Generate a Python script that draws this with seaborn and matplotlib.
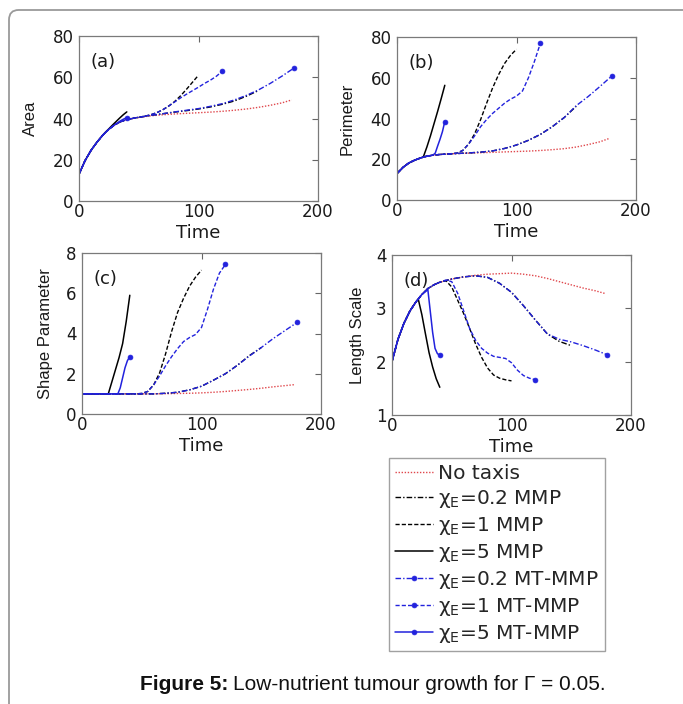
import matplotlib
matplotlib.use("Agg")
import matplotlib.pyplot as plt
from matplotlib.patches import FancyBboxPatch
import seaborn as sns

sns.set_theme(style="white")
plt.rcParams["font.family"] = ["DejaVu Sans"]
plt.rcParams["mathtext.fontset"] = "dejavusans"

# ---------------- data ----------------
labels = ["No taxis",
          "χ$_{\\mathrm{E}}$=0.2 MMP",
          "χ$_{\\mathrm{E}}$=1 MMP",
          "χ$_{\\mathrm{E}}$=5 MMP",
          "χ$_{\\mathrm{E}}$=0.2 MT-MMP",
          "χ$_{\\mathrm{E}}$=1 MT-MMP",
          "χ$_{\\mathrm{E}}$=5 MT-MMP"]

# No taxis
t_nt = [0, 5, 10, 15, 20, 25, 30, 35, 40, 50, 60, 70, 80, 90, 100, 110, 120, 130, 140, 150, 160, 170, 178]
area_nt = [13, 19.5, 24.5, 28.5, 32, 34.8, 37, 38.5, 39.5, 40.5, 41.3, 41.8, 42.2, 42.5, 42.8, 43.1, 43.5, 44, 44.6, 45.4, 46.4, 47.6, 49]
perim_nt = [13, 16, 18.2, 19.6, 20.7, 21.5, 22, 22.3, 22.5, 22.8, 23, 23.2, 23.4, 23.6, 23.8, 24, 24.3, 24.7, 25.2, 26, 27.2, 28.6, 30.3]
shape_nt = [1, 1, 1, 1, 1, 1, 1, 1, 1, 1.0, 1.0, 1.01, 1.02, 1.03, 1.05, 1.08, 1.12, 1.17, 1.22, 1.28, 1.35, 1.41, 1.46]
length_nt = [2.0, 2.42, 2.72, 2.95, 3.12, 3.26, 3.37, 3.44, 3.49, 3.55, 3.59, 3.62, 3.64, 3.65, 3.66, 3.64, 3.61, 3.56, 3.5, 3.44, 3.38, 3.33, 3.28]

# chi_E = 0.2 MMP
t_02 = [0, 5, 10, 15, 20, 25, 30, 35, 40, 50, 60, 70, 80, 90, 100, 110, 120, 130, 140, 150]
area_02 = [13, 19.5, 24.5, 28.5, 32, 34.8, 37, 38.5, 39.5, 40.6, 41.5, 42.3, 43.1, 43.8, 44.6, 45.6, 46.9, 48.5, 50.8, 53.5]
perim_02 = [13, 16, 18.2, 19.6, 20.7, 21.5, 22, 22.3, 22.5, 22.8, 23.1, 23.5, 24.1, 25.3, 27, 29.3, 32.2, 36, 40.5, 46]
shape_02 = [1, 1, 1, 1, 1, 1, 1, 1, 1, 1.0, 1.0, 1.03, 1.08, 1.2, 1.38, 1.68, 2.0, 2.42, 2.9, 3.3]
length_02 = [2.0, 2.42, 2.72, 2.95, 3.12, 3.26, 3.37, 3.44, 3.49, 3.55, 3.59, 3.61, 3.58, 3.47, 3.3, 3.05, 2.78, 2.52, 2.38, 2.3]

# chi_E = 1 MMP
t_1 = [0, 5, 10, 15, 20, 25, 30, 35, 40, 45, 50, 55, 60, 65, 70, 75, 80, 85, 90, 95, 100]
area_1 = [13, 19.5, 24.5, 28.5, 32, 34.8, 37, 38.5, 39.5, 40.1, 40.6, 41.1, 41.8, 42.8, 44.2, 46, 48.2, 51, 54.2, 57.6, 61]
perim_1 = [13, 16, 18.2, 19.6, 20.7, 21.5, 22, 22.3, 22.5, 22.7, 23, 24.3, 27.5, 32.5, 39.5, 47.5, 55, 61.5, 67, 71, 74]
shape_1 = [1, 1, 1, 1, 1, 1, 1, 1, 1, 1, 1.02, 1.12, 1.45, 2.05, 3.0, 4.1, 5.05, 5.75, 6.35, 6.8, 7.15]
length_1 = [2.0, 2.42, 2.72, 2.95, 3.12, 3.26, 3.37, 3.44, 3.49, 3.52, 3.4, 3.15, 2.9, 2.62, 2.33, 2.08, 1.88, 1.75, 1.69, 1.66, 1.64]

# chi_E = 5 MMP
t_5 = [0, 5, 10, 15, 20, 22, 25, 28, 31, 34, 37, 40]
area_5 = [13, 19.5, 24.5, 28.5, 32, 33.3, 35, 36.8, 38.5, 40.2, 41.8, 43.2]
perim_5 = [13, 16, 18.2, 19.6, 20.7, 21.1, 26, 31.5, 37.5, 43.5, 49.8, 56.3]
shape_5 = [1, 1, 1, 1, 1, 1.0, 1.6, 2.2, 2.8, 3.5, 4.6, 5.9]
length_5 = [2.0, 2.42, 2.72, 2.95, 3.12, 3.17, 2.88, 2.52, 2.17, 1.9, 1.68, 1.52]

# chi_E = 0.2 MT-MMP
t_02mt = [0, 5, 10, 15, 20, 25, 30, 35, 40, 50, 60, 70, 80, 90, 100, 110, 120, 130, 140, 150, 160, 170, 180]
area_02mt = [13, 19.5, 24.5, 28.5, 32, 34.8, 37, 38.5, 39.5, 40.6, 41.5, 42.3, 43.2, 44, 44.8, 45.9, 47.2, 49, 51.2, 53.8, 57, 60.6, 64.5]
perim_02mt = [13, 16, 18.2, 19.6, 20.7, 21.5, 22, 22.3, 22.5, 22.8, 23.1, 23.5, 24.1, 25.3, 27, 29.3, 32.2, 36, 40.5, 46.3, 50.8, 55.8, 61]
shape_02mt = [1, 1, 1, 1, 1, 1, 1, 1, 1, 1.0, 1.0, 1.03, 1.08, 1.2, 1.38, 1.68, 2.0, 2.42, 2.88, 3.3, 3.75, 4.15, 4.55]
length_02mt = [2.0, 2.42, 2.72, 2.95, 3.12, 3.26, 3.37, 3.44, 3.49, 3.55, 3.59, 3.61, 3.58, 3.47, 3.3, 3.05, 2.78, 2.52, 2.42, 2.37, 2.3, 2.22, 2.13]

# chi_E = 1 MT-MMP
t_1mt = [0, 5, 10, 15, 20, 25, 30, 35, 40, 45, 50, 55, 60, 65, 70, 75, 80, 85, 90, 95, 100, 105, 110, 115, 120]
area_1mt = [13, 19.5, 24.5, 28.5, 32, 34.8, 37, 38.5, 39.5, 40.1, 40.6, 41.1, 41.8, 42.8, 44.2, 46, 48, 50, 51.8, 53.5, 55.2, 57, 58.6, 60.5, 63]
perim_1mt = [13, 16, 18.2, 19.6, 20.7, 21.5, 22, 22.3, 22.5, 22.7, 23, 24.3, 27.5, 31.5, 36, 39.5, 42.5, 45, 47.5, 49.5, 51, 53.5, 60, 68, 77]
shape_1mt = [1, 1, 1, 1, 1, 1, 1, 1, 1, 1, 1.02, 1.12, 1.45, 1.9, 2.4, 2.85, 3.25, 3.6, 3.8, 3.95, 4.3, 5.2, 6.2, 7.0, 7.43]
length_1mt = [2.0, 2.42, 2.72, 2.95, 3.12, 3.26, 3.37, 3.44, 3.49, 3.53, 3.5, 3.28, 2.95, 2.62, 2.4, 2.25, 2.16, 2.1, 2.08, 2.06, 1.98, 1.84, 1.74, 1.69, 1.66]

# chi_E = 5 MT-MMP
t_5mt = [0, 5, 10, 15, 20, 25, 30, 32, 34, 36, 38, 40]
area_5mt = [13, 19.5, 24.5, 28.5, 32, 34.8, 37, 37.8, 38.6, 39.3, 39.9, 40.3]
perim_5mt = [13, 16, 18.2, 19.6, 20.7, 21.5, 22, 23, 26.5, 29.8, 33.5, 38.5]
shape_5mt = [1, 1, 1, 1, 1, 1, 1.0, 1.3, 1.8, 2.3, 2.65, 2.85]
length_5mt = [2.0, 2.42, 2.72, 2.95, 3.12, 3.26, 3.35, 2.95, 2.55, 2.25, 2.15, 2.12]

times = [t_nt, t_02, t_1, t_5, t_02mt, t_1mt, t_5mt]
panels = [
    ("Area", [area_nt, area_02, area_1, area_5, area_02mt, area_1mt, area_5mt]),
    ("Perimeter", [perim_nt, perim_02, perim_1, perim_5, perim_02mt, perim_1mt, perim_5mt]),
    ("Shape Parameter", [shape_nt, shape_02, shape_1, shape_5, shape_02mt, shape_1mt, shape_5mt]),
    ("Length Scale", [length_nt, length_02, length_1, length_5, length_02mt, length_1mt, length_5mt]),
]
panel_tags = ["(a)", "(b)", "(c)", "(d)"]
x_ticks = [0, 100, 200]
y_ticks = [[0, 20, 40, 60, 80], [0, 20, 40, 60, 80], [0, 2, 4, 6, 8], [1, 2, 3, 4]]

# ---------------- style ----------------
W, H = 683, 704
RED = "#e0474c"
BLUE = "#2222dd"
TXT = "#1a1a1a"
styles = [
    dict(color=RED, linestyle=(0, (1, 1.2)), linewidth=1.0),
    dict(color="black", linestyle=(0, (4, 1.5, 1, 1.5)), linewidth=1.0),
    dict(color="black", linestyle=(0, (3, 1.5)), linewidth=1.0),
    dict(color="black", linestyle="-", linewidth=1.1),
    dict(color=BLUE, linestyle=(0, (4, 1.5, 1, 1.5)), linewidth=1.0, marker=".", markevery=[-1],
         markersize=7, markeredgecolor=BLUE, markeredgewidth=0.5),
    dict(color=BLUE, linestyle=(0, (3, 1.5)), linewidth=1.0, marker=".", markevery=[-1],
         markersize=7, markeredgecolor=BLUE, markeredgewidth=0.5),
    dict(color=BLUE, linestyle="-", linewidth=1.1, marker=".", markevery=[-1],
         markersize=7, markeredgecolor=BLUE, markeredgewidth=0.5),
]

# axes rectangles in pixels: left, top, right, bottom
rects_px = [(79, 36, 318, 201), (397, 37, 636, 200), (82, 253, 321, 414), (392, 255, 631, 415)]
ylabel_x = [-0.172, -0.176, -0.121, -0.113]

fig = plt.figure(figsize=(W / 100, H / 100), dpi=100)
fig.patch.set_facecolor("white")

# outer rounded frame
frame = FancyBboxPatch((9 / W, -0.05), 1.1, 1 - 10 / H + 0.05,
                       boxstyle="round,pad=0,rounding_size=0.014",
                       transform=fig.transFigure, fill=False,
                       edgecolor="#9a9a9a", linewidth=1.3)
fig.add_artist(frame)

axes = []
for i, (name, series) in enumerate(panels):
    l, t, r, b = rects_px[i]
    ax = fig.add_axes([l / W, 1 - b / H, (r - l) / W, (b - t) / H])
    axes.append(ax)
    for j in range(len(series)):
        sns.lineplot(x=times[j], y=series[j], ax=ax, sort=False, estimator=None,
                     legend=False, label=labels[j], **styles[j])
    ax.set_xlim(0, 200)
    ax.set_ylim(y_ticks[i][0], y_ticks[i][-1])
    ax.set_xticks(x_ticks)
    ax.set_yticks(y_ticks[i])
    ax.tick_params(direction="in", length=4, width=0.8, color="#666666",
                   top=True, right=True, labelsize=12, labelcolor=TXT)
    ax.tick_params(axis="x", pad=1.5)
    ax.tick_params(axis="y", pad=4)
    for sp in ax.spines.values():
        sp.set_visible(True)
        sp.set_color("#7a7a7a")
        sp.set_linewidth(0.9)
    ax.set_xlabel("Time", fontsize=13, color=TXT)
    ax.set_ylabel(name, fontsize=12, color=TXT, family=["Liberation Sans"])
    ax.xaxis.set_label_coords(0.5, -23.0 / (b - t))
    ax.yaxis.set_label_coords(ylabel_x[i], 0.5)
    ax.text(0.05, 0.84, panel_tags[i], transform=ax.transAxes, fontsize=13,
            ha="left", va="center", color=TXT)
    ax.set_facecolor("white")

handles, labs = axes[3].get_legend_handles_labels()
leg = fig.legend(handles, labs, loc="upper left", bbox_to_anchor=(389 / W, 1 - 458 / H),
                 frameon=True, fancybox=False, edgecolor="#8a8a8a", fontsize=14.5,
                 handlelength=1.9, handletextpad=0.25, labelspacing=0.25,
                 borderpad=0.3, numpoints=1, borderaxespad=0)
leg.get_frame().set_linewidth(1.0)

# caption
cy = 1 - 684 / H
t1 = fig.text(140 / W, cy, "Figure 5:", fontsize=15, fontweight="bold",
              ha="left", va="center", color="#111111", family=["Liberation Sans"])
fig.canvas.draw()
bb = t1.get_window_extent()
fig.text(bb.x1 / W + 5 / W, cy, "Low-nutrient tumour growth for Γ = 0.05.",
         fontsize=15, ha="left", va="center", color="#111111", family=["Liberation Sans"])

fig.savefig("out.png", dpi=100, facecolor="white")
